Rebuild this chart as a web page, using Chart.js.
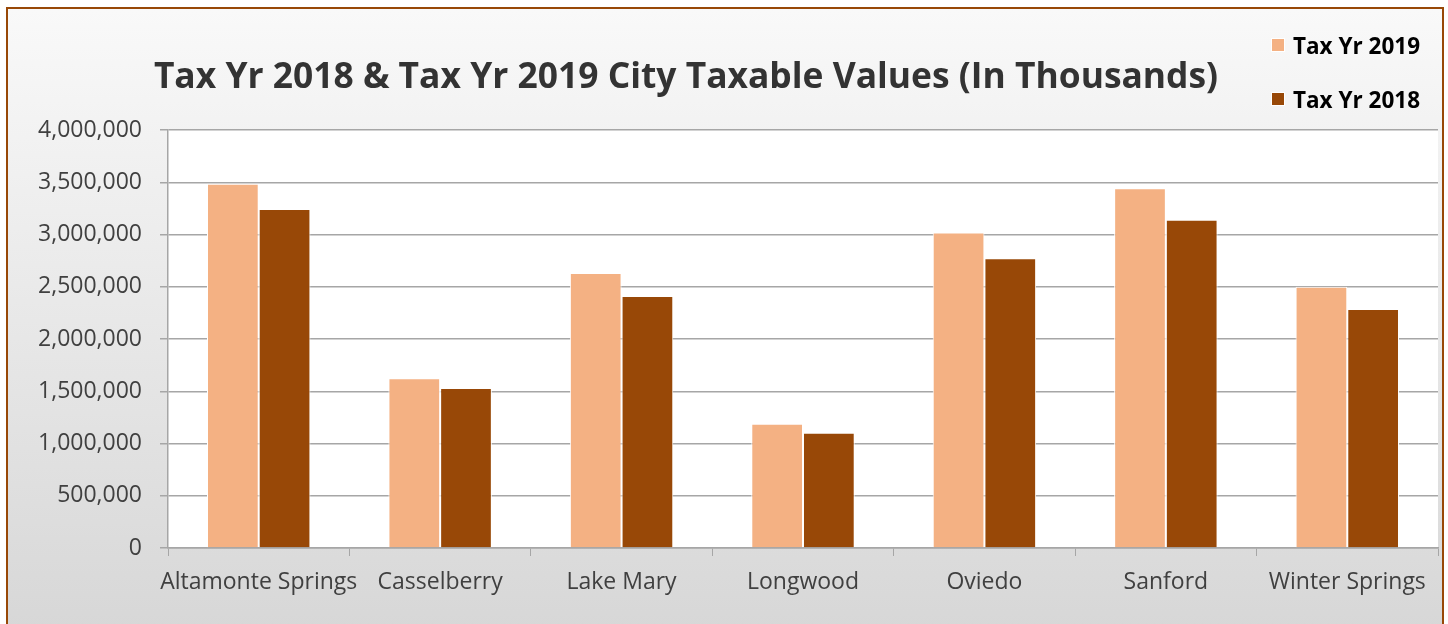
<!DOCTYPE html>
<html>
<head>
<meta charset="utf-8">
<script src="https://cdn.jsdelivr.net/npm/chart.js@4.4.0/dist/chart.umd.min.js"></script>
<style>
html, body { margin: 0; padding: 0; background: #fff; }
body { width: 1448px; height: 624px; position: relative; overflow: hidden; font-family: "Open Sans", sans-serif; }
#frame { position: absolute; left: 6px; top: 7px; width: 1434px; height: 640px; border: 2px solid #984807; background: linear-gradient(#f9f9f9, #d6d6d6); }
#wrap { position: absolute; left: 0; top: 0; width: 1448px; height: 624px; }
#title { position: absolute; left: 0; width: 1372px; top: 49px; text-align: center; font-weight: bold; font-size: 35.4px; line-height: 50px; color: #333; white-space: nowrap; }
#legend { position: absolute; left: 1271px; top: 0; }
.item { position: absolute; left: 0; display: flex; align-items: center; white-space: nowrap; font-weight: bold; font-size: 22.5px; color: #000; height: 30px; }
.box { width: 12px; height: 12px; margin-right: 8px; border: 1px solid #fff; }
</style>
</head>
<body>
<div id="frame"></div>
<div id="wrap"><canvas id="chart"></canvas></div>
<div id="title">Tax Yr 2018 &amp; Tax Yr 2019 City Taxable Values (In Thousands)</div>
<div id="legend"></div>
<script>
const cities = ["Altamonte Springs", "Casselberry", "Lake Mary", "Longwood", "Oviedo", "Sanford", "Winter Springs"];
const taxYr2019 = [3485000, 1625000, 2632000, 1188000, 3018000, 3442000, 2500000];
const taxYr2018 = [3244000, 1530000, 2411000, 1102000, 2772000, 3140000, 2288000];
const yTicks = [0, 500000, 1000000, 1500000, 2000000, 2500000, 3000000, 3500000, 4000000];

const textColor = "#404040";
const gridColor = "#a6a6a6";

// white plot area behind the bars
const plotBackground = {
    id: "plotBackground",
    beforeDraw(chart) {
        const { ctx, chartArea: a } = chart;
        ctx.save();
        ctx.fillStyle = "#fff";
        ctx.fillRect(a.left, a.top, a.right - a.left, a.bottom - a.top);
        ctx.restore();
    }
};

const chart = new Chart("chart", {
    type: "bar",
    data: {
        labels: cities,
        datasets: [
            { label: "Tax Yr 2019", data: taxYr2019, backgroundColor: "#f4b183" },
            { label: "Tax Yr 2018", data: taxYr2018, backgroundColor: "#984807" },
        ],
    },
    options: {
        responsive: true,
        maintainAspectRatio: false,
        animation: false,
        layout: { padding: { top: 130, right: 10, left: 0, bottom: 0 } },
        datasets: {
            bar: {
                categoryPercentage: 0.57,
                barPercentage: 1,
                borderWidth: 1,
                borderColor: "#fff",
                borderSkipped: "bottom",
            },
        },
        plugins: {
            legend: { display: false },
            title: { display: false },
            tooltip: { enabled: false },
        },
        scales: {
            x: {
                afterFit: s => { s.height = 76; },
                grid: { offset: true, drawOnChartArea: false, drawTicks: true, tickLength: 8, color: gridColor },
                border: { color: gridColor, width: 1.5 },
                ticks: { color: textColor, font: { family: "Open Sans", size: 23 }, padding: 13, maxRotation: 0, autoSkip: false },
            },
            y: {
                min: 0,
                max: 4000000,
                afterFit: s => { s.width = 168; },
                afterBuildTicks: s => { s.ticks = yTicks.map(v => ({ value: v })); },
                grid: { color: gridColor, lineWidth: 1.5, tickLength: 8 },
                border: { color: gridColor, width: 1.5 },
                ticks: {
                    color: textColor,
                    font: { family: "Open Sans", size: 23 },
                    padding: 18,
                    callback: v => v.toLocaleString("en-US"),
                },
            },
        },
    },
    plugins: [plotBackground],
});

// legend stacked at the top right, built from the datasets
const legend = document.getElementById("legend");
chart.data.datasets.forEach((ds, i) => {
    const item = document.createElement("div");
    item.className = "item";
    item.style.top = (30 + i * 54) + "px";
    const box = document.createElement("span");
    box.className = "box";
    box.style.background = ds.backgroundColor;
    item.appendChild(box);
    item.appendChild(document.createTextNode(ds.label));
    legend.appendChild(item);
});
</script>
</body>
</html>
